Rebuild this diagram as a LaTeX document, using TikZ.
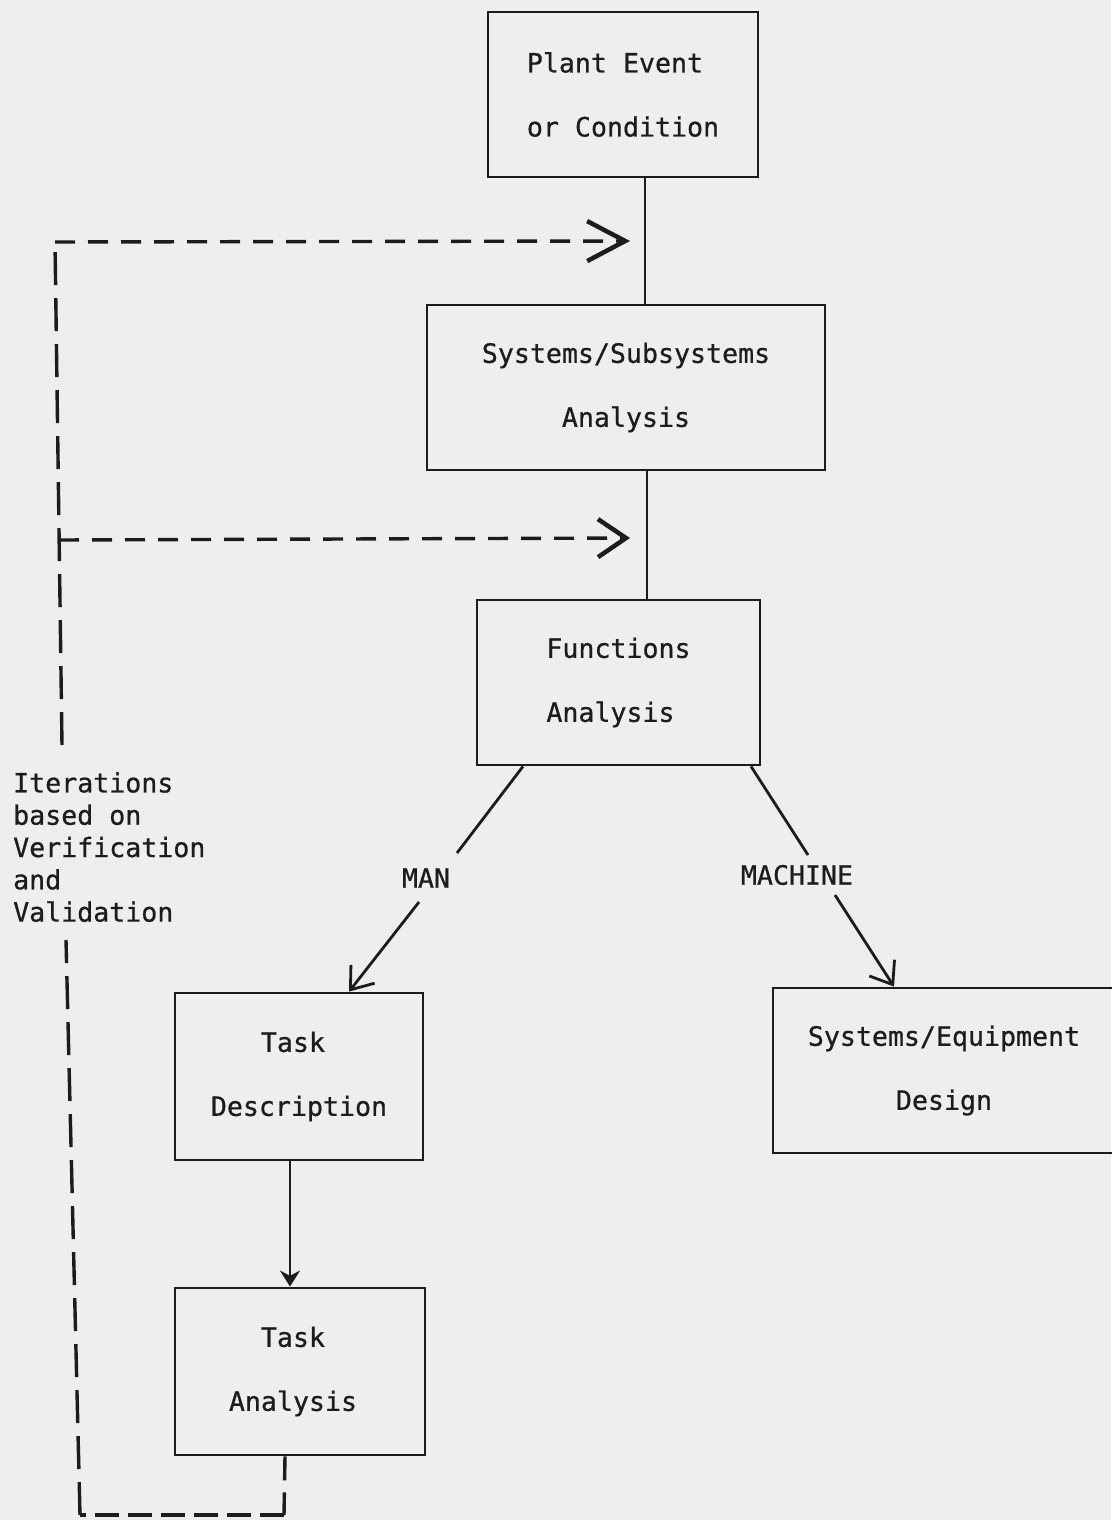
\documentclass[tikz,border=0pt]{standalone}
\usepackage{fontspec}
\newfontfamily\diafam[FakeBold=0.7]{DejaVu Sans Mono}
\usetikzlibrary{arrows.meta,calc}
\definecolor{paper}{RGB}{238,238,236}
\definecolor{ink}{RGB}{28,28,28}
\newcommand\boxfont{\diafam\fontsize{26.6}{64}\selectfont}
\newcommand\notefont{\diafam\fontsize{26.6}{32.3}\selectfont}
\begin{document}
\begin{tikzpicture}[x=1pt,y=-1pt,
  box/.style={draw=ink,line width=2.8pt,rectangle,inner sep=0pt,font=\boxfont,text=ink},
  lbl/.style={inner sep=0pt,font=\boxfont,text=ink},
  conn/.style={draw=ink,line width=2.8pt},
  dashv/.style={draw=ink,line width=3.4pt,dash pattern=on 33pt off 13pt},
  dashh/.style={draw=ink,line width=3.4pt,dash pattern=on 20pt off 13pt},
  dashb/.style={draw=ink,line width=3.8pt,dash pattern=on 24pt off 9pt},
  openarrow/.style={-{Straight Barb[length=20pt,width=30pt,line width=2.8pt]}},
  bigbarb/.style={-{Straight Barb[length=38pt,width=40pt,line width=4.5pt]}},
  smallbarb/.style={-{Straight Barb[length=28pt,width=38pt,line width=4.5pt]}},
  solidtip/.style={-{Stealth[length=16pt,width=20pt]}}]
\path[fill=paper] (0,0) rectangle (1111,1520);
\useasboundingbox (0,0) rectangle (1111,1520);

% boxes
\node[box,minimum width=270pt,minimum height=165pt,align=left] (plant) at (623,94.5) {Plant Event\\or Condition};
\node[box,minimum width=398pt,minimum height=165pt,align=center] (sys) at (626,387.5) {Systems/Subsystems\\Analysis};
\node[box,minimum width=283pt,minimum height=165pt,align=left] (func) at (618.5,682.5) {Functions\\Analysis};
\node[box,minimum width=248pt,minimum height=167pt,align=center] (taskd) at (299,1076.5) {\hspace*{-12pt}Task\\Description};
\node[box,minimum width=250pt,minimum height=167pt,align=center] (taska) at (300,1371.5) {\hspace*{-14pt}Task\\\hspace*{-14pt}Analysis};
\node[box,minimum width=342pt,minimum height=165pt,align=center] (equip) at (944,1070.5) {Systems/Equipment\\Design};

% labels
\node[lbl] (man) at (426,878) {MAN};
\node[lbl] (machine) at (797,875) {MACHINE};
\node[lbl,align=left,anchor=north west,font=\notefont] (iter) at (13,772) {Iterations\\based on\\Verification\\and\\Validation};

% vertical connectors
\coordinate (xa) at (645,0);
\coordinate (xb) at (647,0);
\coordinate (xc) at (290,0);
\draw[conn] (plant.south -| xa) -- (sys.north -| xa);
\draw[conn] (sys.south -| xb) -- (func.north -| xb);
\draw[conn,solidtip] (taskd.south -| xc) -- (taska.north -| xc);

% MAN branch
\coordinate (m0) at (523,0);
\coordinate (m1) at (457,853);
\coordinate (m2) at (419,902);
\coordinate (m3) at (349,0);
\draw[conn] (func.south -| m0) -- (m1);
\draw[conn,openarrow] (m2) -- (taskd.north -| m3);

% MACHINE branch
\coordinate (r0) at (751,0);
\coordinate (r1) at (808,855);
\coordinate (r2) at (835,895);
\coordinate (r3) at (894,0);
\draw[conn] (func.south -| r0) -- (r1);
\draw[conn,openarrow] (r2) -- (equip.north -| r3);

% feedback loop
\coordinate (d0) at (285,0);
\coordinate (d1) at (284,1515);
\coordinate (d2) at (80,1515);
\coordinate (d3) at (66,940);
\coordinate (d4) at (62,745);
\coordinate (d5) at (59,540);
\coordinate (d6) at (55,242);
\coordinate (t1) at (630,241);
\coordinate (t2) at (630,538);
\draw[draw=ink,line width=3.4pt,dash pattern=on 24pt off 12pt] (taska.south -| d0) -- (d1);
\draw[dashb] (d1) -- (d2);
\draw[dashv] (d2) -- (d3);
\draw[dashv] (d4) -- (d6);
\draw[dashh,bigbarb] (d6) -- (t1);
\draw[dashh,smallbarb] (d5) -- (t2);
\end{tikzpicture}
\end{document}
